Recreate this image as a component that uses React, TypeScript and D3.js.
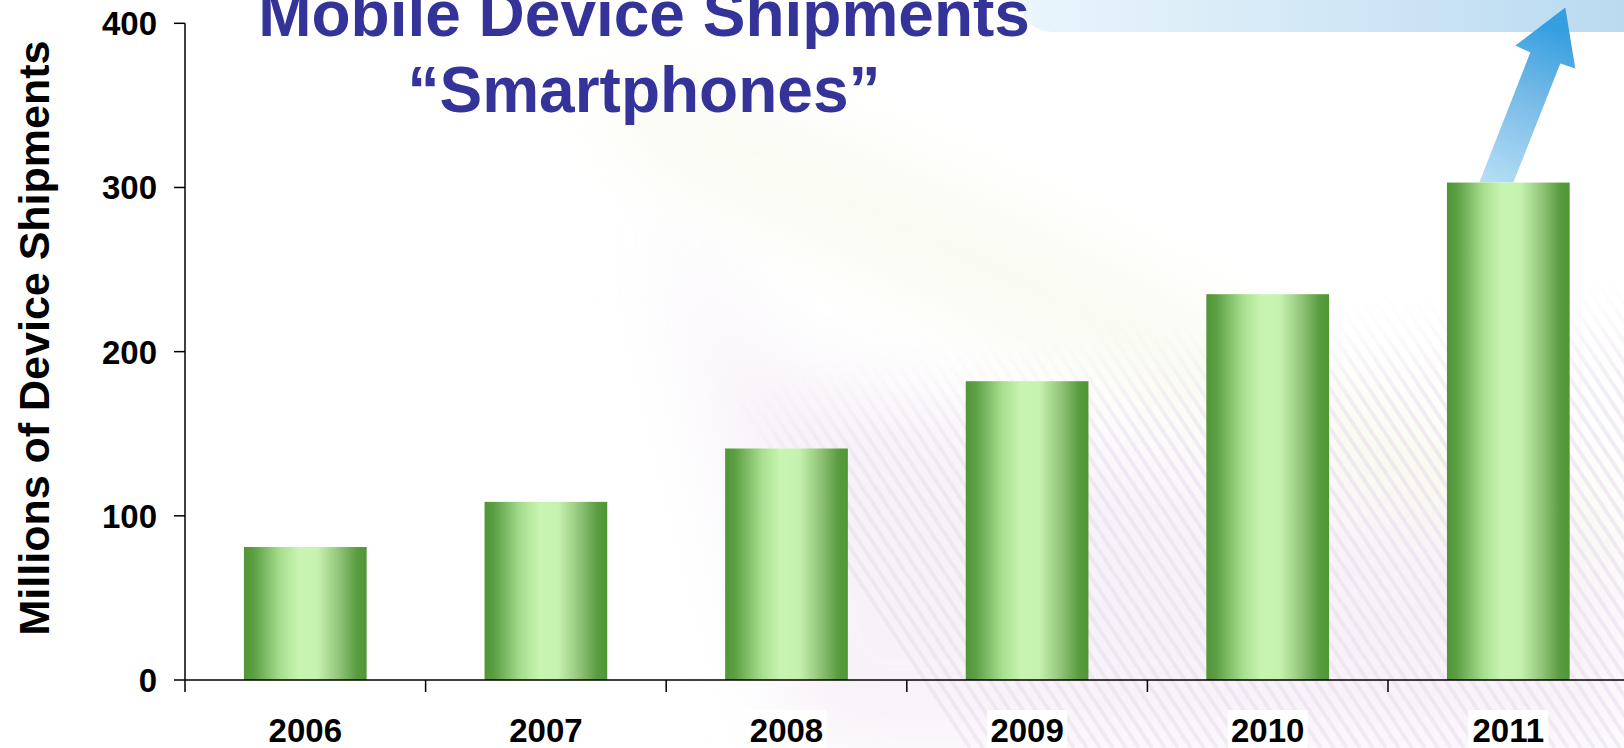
import React from "react";
import * as d3 from "d3";

const years = ["2006", "2007", "2008", "2009", "2010", "2011"];
const shipments = [81, 108.5, 141, 182, 235, 303];
const yTicks = [0, 100, 200, 300, 400];
const titleLines = ["Mobile Device Shipments", "\u201CSmartphones\u201D"];
const yTitle = "Millions of Device Shipments";

const W = 1624;
const H = 748;
const FONT = "'Liberation Sans', Arial, Helvetica, sans-serif";

export default function App() {
  const x0 = 185;
  const step = 240.6;
  const x = d3.scaleBand<string>().domain(years).range([x0, x0 + step * years.length]).padding(0);
  const y = d3.scaleLinear().domain([0, 400]).range([680, 23.3]);
  const barW = x.bandwidth() * 0.51;

  const last = years[years.length - 1];
  const baseY = y(shipments[shipments.length - 1]);
  const bx = (x(last) as number) + x.bandwidth() / 2;
  const arrowPts: [number, number][] = [
    [bx - 29, baseY],
    [bx + 5, baseY],
    [bx + 52, baseY - 119],
    [bx + 67, baseY - 114],
    [bx + 57, baseY - 175],
    [bx + 7, baseY - 137],
    [bx + 22, baseY - 130],
  ];
  const line = d3.line();

  const stripes = d3.range(0, 90);

  return (
    <svg
      width={W}
      height={H}
      style={{ position: "fixed", left: 0, top: 0, background: "#ffffff" }}
    >
      <defs>
        <linearGradient id="barGrad" x1="0" x2="1" y1="0" y2="0">
          <stop offset="0%" stopColor="#4f9636" />
          <stop offset="8%" stopColor="#5c9f44" />
          <stop offset="30%" stopColor="#a8df8f" />
          <stop offset="45%" stopColor="#c9f5b3" />
          <stop offset="60%" stopColor="#c6f2b0" />
          <stop offset="78%" stopColor="#8fc376" />
          <stop offset="92%" stopColor="#5a9c41" />
          <stop offset="100%" stopColor="#4f9636" />
        </linearGradient>
        <linearGradient id="boxGrad" x1="0" x2="1" y1="0" y2="0">
          <stop offset="0%" stopColor="#eaf5fc" />
          <stop offset="100%" stopColor="#b2d6ee" />
        </linearGradient>
        <linearGradient id="arrowGrad" x1="0" x2="0.25" y1="1" y2="0">
          <stop offset="0%" stopColor="#b3def5" />
          <stop offset="55%" stopColor="#74b9e6" />
          <stop offset="100%" stopColor="#2e9bdf" />
        </linearGradient>
        <filter id="soft" filterUnits="userSpaceOnUse" x="0" y="-200" width="2000" height="1200">
          <feGaussianBlur stdDeviation="40" />
        </filter>
        <filter id="softer" filterUnits="userSpaceOnUse" x="0" y="0" width="2000" height="1000">
          <feGaussianBlur stdDeviation="35" />
        </filter>
        <mask id="stripeMask" maskUnits="userSpaceOnUse" x="0" y="0" width={W} height={H}>
          <path
            d="M 760 430 C 1000 400, 1300 360, 1700 330 L 1700 800 L 800 800 Z"
            fill="#fff"
            filter="url(#softer)"
          />
        </mask>
      </defs>

      {/* faint background swooshes */}
      <g filter="url(#soft)" opacity={0.55}>
        <path
          d="M 600 70 C 820 130, 1050 230, 1300 380 L 1624 500 L 1624 600 C 1300 470, 950 300, 640 150 Z"
          fill="#f3f5df"
        />
        <path
          d="M 660 200 C 710 400, 760 600, 800 748 L 1624 748 L 1624 560 C 1300 500, 1000 430, 760 360 Z"
          fill="#f1e6f3"
        />
      </g>
      <g mask="url(#stripeMask)" opacity={0.6}>
        {stripes.map((i) => (
          <line
            key={i}
            x1={640 + i * 13}
            y1={250}
            x2={640 + i * 13 + 330}
            y2={748}
            stroke="#eadfee"
            strokeWidth={4}
          />
        ))}
      </g>

      {/* top right box */}
      <rect x={1020} y={-60} width={700} height={92} rx={32} fill="url(#boxGrad)" />

      {/* title */}
      {titleLines.map((t, i) => (
        <text
          key={i}
          x={644}
          y={36 + i * 76}
          textAnchor="middle"
          fontFamily={FONT}
          fontWeight="bold"
          fontSize={64}
          fill="#333399"
        >
          {t}
        </text>
      ))}

      {/* arrow */}
      <path d={line(arrowPts.concat([arrowPts[0]])) || ""} fill="url(#arrowGrad)" opacity={0.95} />

      {/* bars */}
      {years.map((yr, i) => {
        const cx = (x(yr) as number) + x.bandwidth() / 2;
        return (
          <rect
            key={yr}
            x={cx - barW / 2}
            y={y(shipments[i])}
            width={barW}
            height={y(0) - y(shipments[i])}
            fill="url(#barGrad)"
          />
        );
      })}

      {/* y axis */}
      <line x1={x0} x2={x0} y1={y(400)} y2={y(0) + 12} stroke="#000" strokeWidth={1.5} />
      {yTicks.map((t) => (
        <g key={t}>
          <line x1={x0 - 11} x2={x0} y1={y(t)} y2={y(t)} stroke="#000" strokeWidth={1.5} />
          <text
            x={157}
            y={y(t)}
            dy="0.36em"
            textAnchor="end"
            fontFamily={FONT}
            fontWeight="bold"
            fontSize={33}
            fill="#000"
          >
            {t}
          </text>
        </g>
      ))}

      {/* x axis */}
      <line x1={x0} x2={W} y1={y(0)} y2={y(0)} stroke="#000" strokeWidth={1.5} />
      {years.map((yr) => (
        <line
          key={yr}
          x1={(x(yr) as number) + x.bandwidth()}
          x2={(x(yr) as number) + x.bandwidth()}
          y1={y(0)}
          y2={y(0) + 12}
          stroke="#000"
          strokeWidth={1.5}
        />
      ))}
      {years.map((yr) => {
        const cx = (x(yr) as number) + x.bandwidth() / 2;
        return (
          <g key={yr}>
            <rect x={cx - 40} y={710} width={80} height={40} fill="#ffffff" />
            <text
              x={cx}
              y={742}
              textAnchor="middle"
              fontFamily={FONT}
              fontWeight="bold"
              fontSize={33}
              fill="#000"
            >
              {yr}
            </text>
          </g>
        );
      })}

      {/* y axis title */}
      <text
        transform={`translate(49, 338) rotate(-90)`}
        textAnchor="middle"
        fontFamily={FONT}
        fontWeight="bold"
        fontSize={43}
        fill="#000"
      >
        {yTitle}
      </text>
    </svg>
  );
}
